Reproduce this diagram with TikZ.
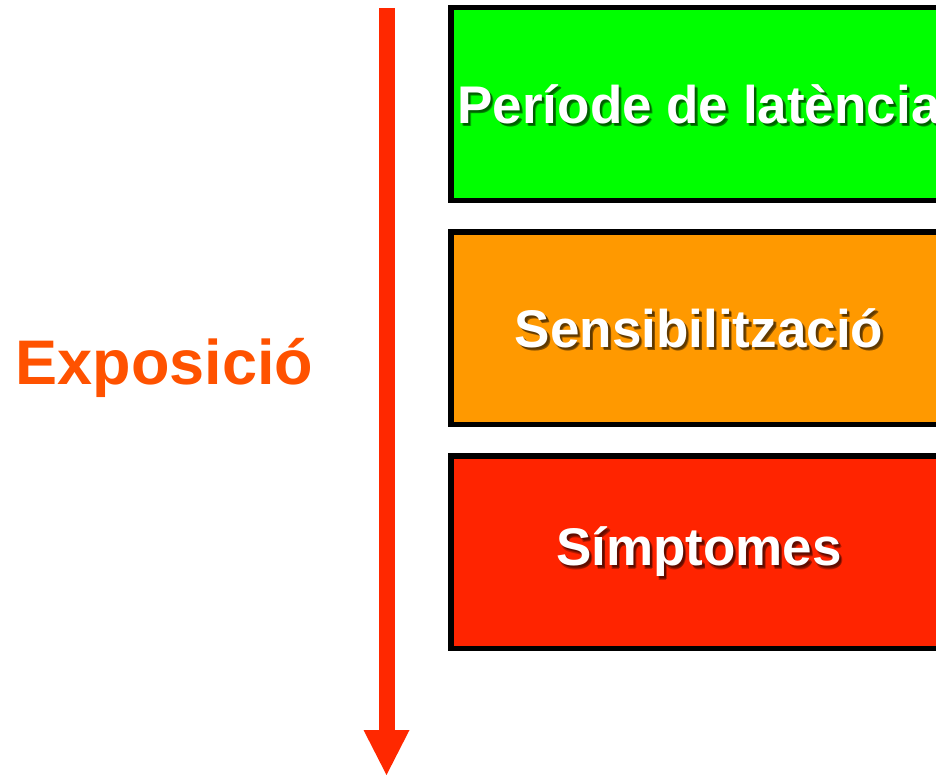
\documentclass[tikz,border=0pt]{standalone}
\usepackage{fontspec}
\setmainfont{Liberation Sans}
\usetikzlibrary{arrows.meta}
\definecolor{boxgreen}{RGB}{0,255,0}
\definecolor{boxorange}{RGB}{255,153,0}
\definecolor{boxred}{RGB}{255,36,0}
\definecolor{arrowred}{RGB}{255,40,0}
\definecolor{expocol}{RGB}{255,82,0}
\begin{document}
\begin{tikzpicture}[x=1pt,y=-1pt,
  stagebox/.style={draw=black, line width=5.5pt, minimum width=496.5pt, minimum height=192.5pt, inner sep=0pt},
  stagetext/.style={text=white, font=\bfseries\fontsize{53}{60}\selectfont, inner sep=0pt},
  shadowtext/.style={text=black, text opacity=0.28, font=\bfseries\fontsize{53}{60}\selectfont, inner sep=0pt},
  expoarrow/.style={draw=arrowred, line width=16pt, -{Triangle[width=46pt,length=45pt,line width=0pt]}}]
\useasboundingbox (0,0) rectangle (936,776);
\clip (0,0) rectangle (936,776);
% boxes
\node[stagebox, fill=boxgreen] (lat) at (699,104) {};
\node[stagebox, fill=boxorange] (sens) at (699,328) {};
\node[stagebox, fill=boxred] (simp) at (699,552) {};
% soft shadows and texts
\foreach \b/\t in {lat/{Període de latència}, sens/{Sensibilització}, simp/{Símptomes}}{
  \node[shadowtext] (\b-s1) at ([shift={(2,2)}]\b.center) {\t};
  \node[shadowtext] (\b-s2) at ([shift={(3,3)}]\b.center) {\t};
  \node[shadowtext] (\b-s3) at ([shift={(2.5,3.8)}]\b.center) {\t};
  \node[stagetext] (\b-t) at (\b.center) {\t};
}
% axis label
\node[anchor=base west, inner sep=0pt, text=expocol, font=\bfseries\fontsize{63}{70}\selectfont] (expo) at (15.5,384) {Exposició};
% arrow
\coordinate (atop) at (386.5,8);
\coordinate (atip) at (386.5,775);
\draw[expoarrow] (atop) -- (atip);
\end{tikzpicture}
\end{document}
